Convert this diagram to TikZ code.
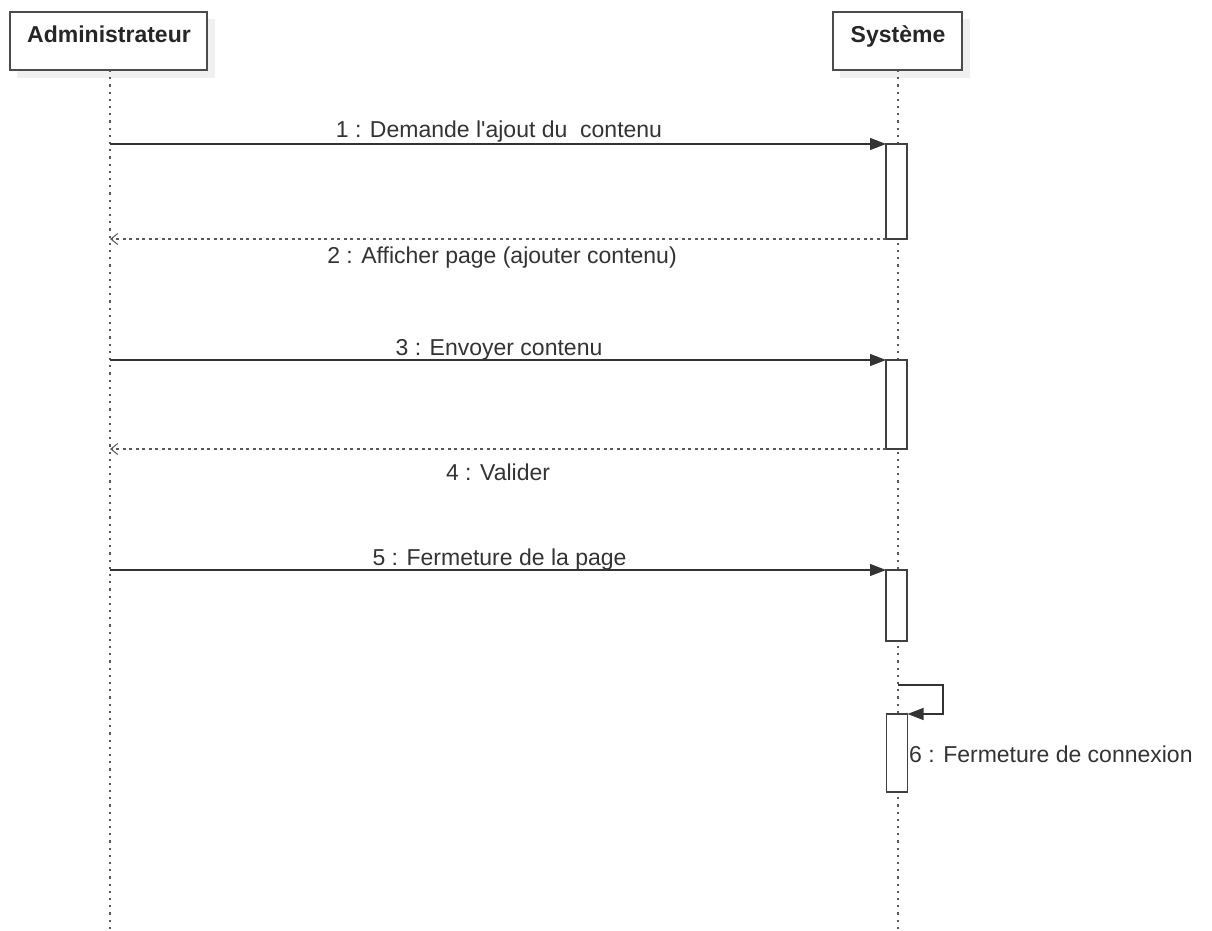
\documentclass[tikz,border=0pt]{standalone}
\usepackage{fontspec}
\setmainfont{Liberation Sans}
\usetikzlibrary{arrows.meta}
\begin{document}
\begin{tikzpicture}[x=1pt,y=-1pt,
  actorbox/.style={draw=black!70, line width=1.3pt, fill=white, inner sep=0pt, outer sep=0pt},
  actorshadow/.style={fill=black!6, draw=none},
  actorname/.style={anchor=base, font=\fontsize{23}{27}\selectfont\bfseries, text=black!85, inner sep=0pt},
  lifeline/.style={draw=black!65, line width=1.3pt, dash pattern=on 2.2pt off 5pt},
  activation/.style={draw=black!75, line width=1.2pt, fill=white, anchor=north west,
    minimum width=21pt, inner sep=0pt, outer sep=0pt},
  callmsg/.style={draw=black!80, line width=1.2pt, -{Triangle[length=16pt,width=12pt]}},
  replymsg/.style={draw=black!65, line width=1.3pt, dash pattern=on 3pt off 3.5pt,
    -{Straight Barb[length=7pt,width=11pt,line width=1pt]}},
  msglabel/.style={anchor=base, font=\fontsize{23}{27}\selectfont, text=black!80, inner sep=0pt},
]
\useasboundingbox (0,0) rectangle (1212,931);

% participant heads with their soft drop shadows
\fill[actorshadow] (17,19) rectangle (215,78);
\fill[actorshadow] (840,19) rectangle (970,78);
\node[actorbox, minimum width=197pt, minimum height=58pt] (adm) at (108.5,41) {};
\node[actorbox, minimum width=129pt, minimum height=58pt] (sys) at (897.5,41) {};
\node[actorname] (admname) at (109,43) {Administrateur};
\node[actorname] (sysname) at (898,43) {Système};

% lifelines
\coordinate (admEnd) at (110,931);
\coordinate (sysEnd) at (898,931);
\draw[lifeline] (110,70) -- (admEnd);
\draw[lifeline] (898,70) -- (sysEnd);

% activation bars on the system lifeline
\node[activation, minimum height=95pt] (act1) at (886,144) {};
\node[activation, minimum height=89pt] (act3) at (886,360) {};
\node[activation, minimum height=71pt] (act5) at (886,570) {};
\node[activation, minimum height=78pt] (act6) at (886.5,714) {};

% message end points on the administrator lifeline
\coordinate (m1) at (110,144);
\coordinate (m2) at (110,239);
\coordinate (m3) at (110,360);
\coordinate (m4) at (110,449);
\coordinate (m5) at (110,570);
\coordinate (m6) at (898,685);

% messages
\draw[callmsg] (m1) -- (act1.north west);
\draw[replymsg] (act1.south west) -- (m2);
\draw[callmsg] (m3) -- (act3.north west);
\draw[replymsg] (act3.south west) -- (m4);
\draw[callmsg] (m5) -- (act5.north west);
\draw[callmsg] (m6) -- (943,685) |- (act6.north east);

% message labels
\node[msglabel] (l1) at (499,138) {1 : Demande l\textquotesingle ajout du\ \ contenu};
\node[msglabel] (l2) at (502,263) {2 : Afficher page (ajouter contenu)};
\node[msglabel] (l3) at (499,355) {3 : Envoyer contenu};
\node[msglabel] (l4) at (498,480) {4 : Valider};
\node[msglabel] (l5) at (499.5,565) {5 : Fermeture de la page};
\node[msglabel, anchor=base west] (l6) at (909,762) {6 : Fermeture de connexion};
\end{tikzpicture}
\end{document}
